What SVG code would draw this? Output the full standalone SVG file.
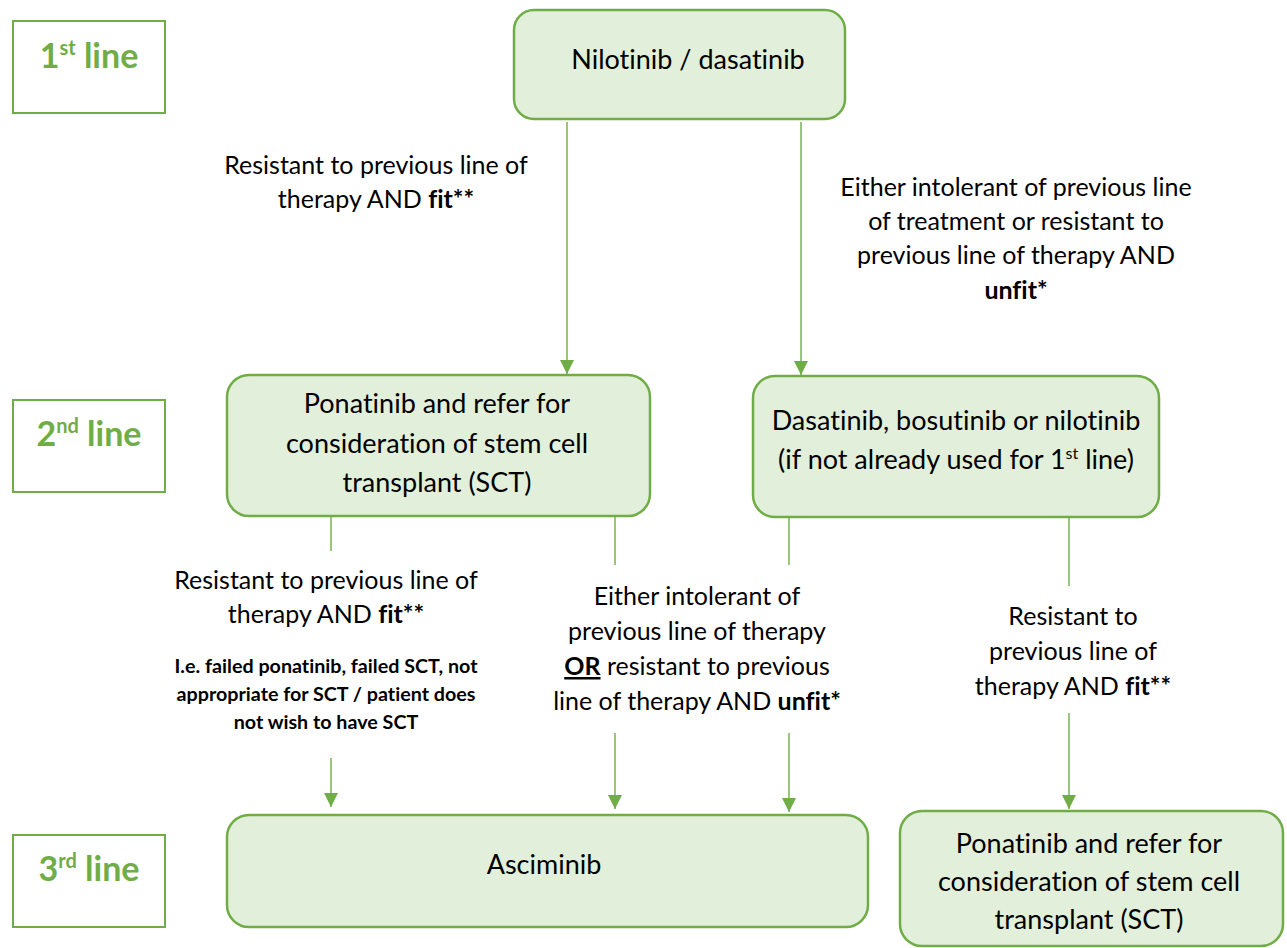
<svg xmlns="http://www.w3.org/2000/svg" width="1287" height="948" viewBox="0 0 1287 948">
<style>
text{font-variant-ligatures:none}
.lbl{fill:#fff;stroke:#70AD47;stroke-width:2}
.lt{font-family:Lato,"Open Sans",sans-serif;font-weight:bold;font-size:34px;fill:#70AD47;text-anchor:middle}
.box{fill:#E2EFDA;stroke:#70AD47;stroke-width:2.5}
.bt{font-family:Lato,"Open Sans",sans-serif;font-size:27px;fill:#000;text-anchor:middle}
.ct{font-family:Lato,"Open Sans",sans-serif;font-size:25px;fill:#000;text-anchor:middle}
.st{font-family:Lato,"Open Sans",sans-serif;font-size:19.7px;font-weight:bold;fill:#000;text-anchor:middle}
.b{font-weight:bold}
.conn line{stroke:#70AD47;stroke-width:1.4}
</style>
<defs>
<marker id="ah" markerWidth="14" markerHeight="14" viewBox="0 0 14 14" refX="14" refY="7" orient="auto" markerUnits="userSpaceOnUse">
<path d="M0,0 L14,7 L0,14 Z" fill="#70AD47"/>
</marker>
</defs>

<g id="label1"><rect class="lbl" x="13" y="21" width="152" height="92"/><text class="lt" x="89" y="68">1<tspan font-size="20" dy="-13">st</tspan><tspan dy="13"> line</tspan></text></g>
<g id="label2"><rect class="lbl" x="13" y="400" width="152" height="92"/><text class="lt" x="89" y="446">2<tspan font-size="20" dy="-13">nd</tspan><tspan dy="13"> line</tspan></text></g>
<g id="label3"><rect class="lbl" x="13" y="835" width="152" height="92"/><text class="lt" x="89" y="881">3<tspan font-size="20" dy="-13">rd</tspan><tspan dy="13"> line</tspan></text></g>

<g id="n1"><rect class="box" x="514" y="10" width="331" height="109" rx="20"/><text class="bt" x="688" y="69">Nilotinib / dasatinib</text></g>

<g id="n2a"><rect class="box" x="227" y="375" width="423" height="141" rx="22"/>
<text class="bt" x="437" y="413">Ponatinib and refer for</text>
<text class="bt" x="437" y="453">consideration of stem cell</text>
<text class="bt" x="437" y="492">transplant (SCT)</text></g>

<g id="n2b"><rect class="box" x="753" y="376" width="406" height="141" rx="22"/>
<text class="bt" x="956" y="430">Dasatinib, bosutinib or nilotinib</text>
<text class="bt" x="956" y="469">(if not already used for 1<tspan font-size="16" dy="-10">st</tspan><tspan dy="10"> line)</tspan></text></g>

<g id="n3a"><rect class="box" x="227" y="815" width="641" height="112" rx="22"/>
<text class="bt" x="544" y="874">Asciminib</text></g>

<g id="n3b"><rect class="box" x="900" y="811" width="383" height="135" rx="22"/>
<text class="bt" x="1089" y="853">Ponatinib and refer for</text>
<text class="bt" x="1089" y="891">consideration of stem cell</text>
<text class="bt" x="1089" y="929">transplant (SCT)</text></g>

<g id="connectors" class="conn">
<line x1="567" y1="122" x2="567" y2="374" marker-end="url(#ah)"/>
<line x1="801" y1="122" x2="801" y2="375" marker-end="url(#ah)"/>
<line x1="331" y1="517" x2="331" y2="551"/>
<line x1="331" y1="758" x2="331" y2="807" marker-end="url(#ah)"/>
<line x1="615" y1="517" x2="615" y2="565"/>
<line x1="615" y1="733" x2="615" y2="809" marker-end="url(#ah)"/>
<line x1="789" y1="517" x2="789" y2="565"/>
<line x1="789" y1="733" x2="789" y2="812" marker-end="url(#ah)"/>
<line x1="1069" y1="517" x2="1069" y2="586"/>
<line x1="1069" y1="713" x2="1069" y2="809" marker-end="url(#ah)"/>
</g>

<g id="connector-labels">
<text class="ct" x="376" y="174">Resistant to previous line of</text>
<text class="ct" x="376" y="208">therapy AND <tspan class="b">fit**</tspan></text>

<text class="ct" x="1016" y="196">Either intolerant of previous line</text>
<text class="ct" x="1016" y="230">of treatment or resistant to</text>
<text class="ct" x="1016" y="264">previous line of therapy AND</text>
<text class="ct" x="1016" y="299"><tspan class="b">unfit*</tspan></text>

<text class="ct" x="326" y="589">Resistant to previous line of</text>
<text class="ct" x="326" y="623">therapy AND <tspan class="b">fit**</tspan></text>
<text class="st" x="326" y="673">I.e. failed ponatinib, failed SCT, not</text>
<text class="st" x="326" y="701">appropriate for SCT / patient does</text>
<text class="st" x="326" y="729">not wish to have SCT</text>

<text class="ct" x="697" y="605">Either intolerant of</text>
<text class="ct" x="697" y="640">previous line of therapy</text>
<text class="ct" x="697" y="675"><tspan class="b" text-decoration="underline">OR</tspan> resistant to previous</text>
<text class="ct" x="697" y="710">line of therapy AND <tspan class="b">unfit*</tspan></text>

<text class="ct" x="1073" y="625">Resistant to</text>
<text class="ct" x="1073" y="660">previous line of</text>
<text class="ct" x="1073" y="695">therapy AND <tspan class="b">fit**</tspan></text>
</g>
</svg>
